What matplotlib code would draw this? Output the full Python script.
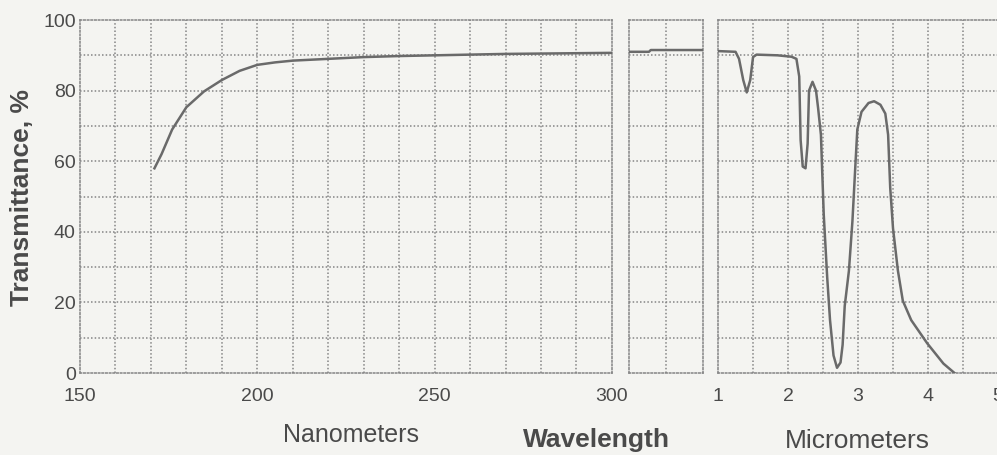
import matplotlib.pyplot as plt
import numpy as np

# UV part, nanometers
uv_nm = [171, 173, 176, 180, 185, 190, 195, 200, 205, 210, 220, 230, 240, 250, 260, 270, 280, 290, 300]
uv_t = [58, 62, 69, 75.3, 79.8, 83, 85.6, 87.3, 88, 88.5, 89, 89.5, 89.8, 90, 90.2, 90.4, 90.5, 90.6, 90.7]

# visible part, no scale printed
vis_x = [0, 0.55, 0.6, 2]
vis_t = [91.0, 91.0, 91.5, 91.5]

# IR part, micrometers
ir_um = [1.00, 1.25, 1.30, 1.36, 1.41, 1.46, 1.50, 1.55, 1.85, 2.05, 2.12, 2.16, 2.18, 2.21, 2.25,
         2.28, 2.30, 2.35, 2.40, 2.43, 2.47, 2.51, 2.56, 2.60, 2.65, 2.70, 2.75, 2.78, 2.81, 2.87,
         2.92, 2.96, 2.99, 3.05, 3.15, 3.23, 3.32, 3.39, 3.43, 3.46, 3.50, 3.57, 3.64, 3.76, 3.99,
         4.22, 4.38]
ir_t = [91.2, 91.0, 89, 83, 79.5, 83, 89.5, 90.2, 90.0, 89.6, 89, 84, 66, 58.5, 58,
        65, 80, 82.5, 80, 75, 67.5, 45, 27, 15, 5, 1.5, 3, 8, 19, 29,
        43, 58, 69, 74, 76.5, 77, 76, 73.5, 67.5, 52.5, 41, 29, 20.5, 15, 8.4,
        2.7, 0]

uv_ticks = [150, 200, 250, 300]
ir_ticks = [1, 2, 3, 4, 5]
t_ticks = [0, 20, 40, 60, 80, 100]

bg = '#f4f4f1'
grid_c = '#858585'
line_c = '#6a6a6a'
text_c = '#4a4a4a'
dots = (0, (1, 1.4))

fig = plt.figure(figsize=(9.97, 4.55), dpi=100, facecolor=bg)

bottom, height = 0.180, 0.776
ax1 = fig.add_axes([0.0802, bottom, 0.5336, height])
ax2 = fig.add_axes([0.6305, bottom, 0.0742, height])
ax3 = fig.add_axes([0.7202, bottom, 0.2808, height])


def style(ax, xlim, xmajor, xgrid):
    ax.set_facecolor(bg)
    ax.set_xlim(*xlim)
    ax.set_ylim(0, 100)
    for x in xgrid:
        ax.axvline(x, color=grid_c, lw=1.1, ls=dots, zorder=1)
    for y in np.arange(10, 100, 10):
        ax.axhline(y, color=grid_c, lw=1.1, ls=dots, zorder=1)
    for s in ax.spines.values():
        s.set_color(grid_c)
        s.set_linewidth(1.1)
        s.set_linestyle(dots)
    ax.set_xticks(xmajor)
    ax.tick_params(length=0, pad=11, labelsize=14, labelcolor=text_c)
    for lab in ax.get_xticklabels():
        lab.set_family('Liberation Sans')


style(ax1, (150, 300), uv_ticks, np.arange(160, 300, 10))
ax1.set_yticks(t_ticks)
ax1.tick_params(axis='y', pad=3)
for lab in ax1.get_yticklabels():
    lab.set_family('Liberation Sans')
ax1.plot(uv_nm, uv_t, color=line_c, lw=1.8, zorder=3)

style(ax2, (0, 2), [], [1])
ax2.set_yticks([])
ax2.plot(vis_x, vis_t, color=line_c, lw=1.8, zorder=3)

style(ax3, (1, 5), ir_ticks, np.arange(1.5, 5, 0.5))
ax3.set_yticks([])
ax3.plot(ir_um, ir_t, color=line_c, lw=1.8, zorder=3)

fig.text(0.022, 0.565, 'Transmittance, %', rotation=90, ha='center', va='center',
         fontsize=19, fontweight='bold', color=text_c, family='Liberation Sans')
fig.text(0.352, 0.029, 'Nanometers', ha='center', va='baseline',
         fontsize=18, color=text_c, family='Liberation Sans')
fig.text(0.598, 0.018, 'Wavelength', ha='center', va='baseline',
         fontsize=19, fontweight='bold', color=text_c, family='Liberation Sans')
fig.text(0.860, 0.016, 'Micrometers', ha='center', va='baseline',
         fontsize=19, color=text_c, family='Liberation Sans')

fig.savefig('out.png', dpi=100, facecolor=bg)
